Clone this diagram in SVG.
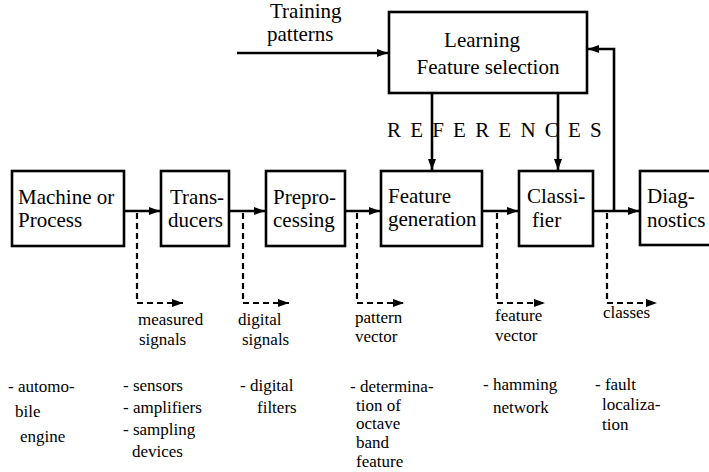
<svg xmlns="http://www.w3.org/2000/svg" width="709" height="472" viewBox="0 0 709 472">
<defs>
<style>
.box{fill:#fff;stroke:#000;stroke-width:2.6}
.t{font-size:21px;fill:#000}
.s{font-size:17px;fill:#000}
.ln{fill:none;stroke:#000;stroke-width:2.6}
.dl{fill:none;stroke:#000;stroke-width:2.2;stroke-dasharray:6 4}
</style>
<marker id="ah" markerWidth="12" markerHeight="10" refX="11" refY="5" orient="auto" markerUnits="userSpaceOnUse">
<path d="M0,1 L11,5 L0,9 Z" fill="#000"/>
</marker>
</defs>
<rect width="709" height="472" fill="#fff"/>

<g id="connectors">
<line class="ln" x1="237" y1="53" x2="388" y2="53" marker-end="url(#ah)"/>
<line class="ln" x1="432" y1="93" x2="432" y2="170" marker-end="url(#ah)"/>
<line class="ln" x1="558" y1="93" x2="558" y2="170" marker-end="url(#ah)"/>
<polyline class="ln" points="614,211 614,49 588,49" marker-end="url(#ah)"/>
<line class="ln" x1="124" y1="211" x2="160" y2="211" marker-end="url(#ah)"/>
<line class="ln" x1="229" y1="211" x2="265" y2="211" marker-end="url(#ah)"/>
<line class="ln" x1="345" y1="211" x2="380" y2="211" marker-end="url(#ah)"/>
<line class="ln" x1="482" y1="211" x2="518" y2="211" marker-end="url(#ah)"/>
<line class="ln" x1="593" y1="211" x2="639" y2="211" marker-end="url(#ah)"/>
<polyline class="dl" points="137,213 137,303 183,303" marker-end="url(#ah)"/>
<polyline class="dl" points="243,213 243,303 289,303" marker-end="url(#ah)"/>
<polyline class="dl" points="357,213 357,303 404,303" marker-end="url(#ah)"/>
<polyline class="dl" points="497,213 497,303 545,303" marker-end="url(#ah)"/>
<polyline class="dl" points="607,213 607,303 657,303" marker-end="url(#ah)"/>
</g>

<g font-family="Liberation Serif, Times New Roman, Times, serif">
<g id="learning">
<rect class="box" x="389" y="12" width="198" height="81"/>
<text class="t" x="482" y="47" text-anchor="middle">Learning</text>
<text class="t" x="488" y="74" text-anchor="middle">Feature selection</text>
</g>
<g id="training">
<text class="t" x="270" y="18" font-size="17.5">Training</text>
<text class="t" x="267" y="41" font-size="17.5">patterns</text>
</g>
<g id="references">
<text class="t" x="387" y="137" font-size="20" letter-spacing="9.2">REFERENCES</text>
</g>

<g id="machine">
<rect class="box" x="12" y="171" width="112" height="75"/>
<text class="t" x="18" y="204">Machine or</text>
<text class="t" x="18" y="227">Process</text>
</g>
<g id="transducers">
<rect class="box" x="161" y="171" width="68" height="75"/>
<text class="t" x="170" y="204">Trans-</text>
<text class="t" x="168" y="227">ducers</text>
</g>
<g id="preprocessing">
<rect class="box" x="266" y="171" width="79" height="75"/>
<text class="t" x="273" y="204">Prepro-</text>
<text class="t" x="273" y="227">cessing</text>
</g>
<g id="featuregen">
<rect class="box" x="381" y="171" width="101" height="75"/>
<text class="t" x="388" y="203">Feature</text>
<text class="t" x="388" y="226">generation</text>
</g>
<g id="classifier">
<rect class="box" x="519" y="171" width="74" height="75"/>
<text class="t" x="527" y="203">Classi-</text>
<text class="t" x="532" y="227">fier</text>
</g>
<g id="diagnostics">
<rect class="box" x="640" y="171" width="80" height="74"/>
<text class="t" x="647" y="203">Diag-</text>
<text class="t" x="647" y="227">nostics</text>
</g>

<g id="labels">
<text class="s" x="138" y="325">measured</text>
<text class="s" x="139" y="345">signals</text>
<text class="s" x="238" y="325">digital</text>
<text class="s" x="242" y="345">signals</text>
<text class="s" x="355" y="323">pattern</text>
<text class="s" x="355" y="342">vector</text>
<text class="s" x="495" y="321">feature</text>
<text class="s" x="495" y="341">vector</text>
<text class="s" x="603" y="318">classes</text>
</g>

<g id="examples">
<text class="s" x="8" y="392">- automo-</text>
<text class="s" x="15" y="417">bile</text>
<text class="s" x="20" y="442">engine</text>
<text class="s" x="123" y="391">- sensors</text>
<text class="s" x="123" y="413">- amplifiers</text>
<text class="s" x="123" y="435">- sampling</text>
<text class="s" x="132" y="457">devices</text>
<text class="s" x="240" y="391">- digital</text>
<text class="s" x="257" y="413">filters</text>
<text class="s" x="350" y="392">- determina-</text>
<text class="s" x="356" y="411">tion of</text>
<text class="s" x="356" y="429">octave</text>
<text class="s" x="356" y="448">band</text>
<text class="s" x="356" y="467">feature</text>
<text class="s" x="483" y="390">- hamming</text>
<text class="s" x="493" y="413">network</text>
<text class="s" x="595" y="390">- fault</text>
<text class="s" x="602" y="410">localiza-</text>
<text class="s" x="602" y="430">tion</text>
</g>
</g>
</svg>
